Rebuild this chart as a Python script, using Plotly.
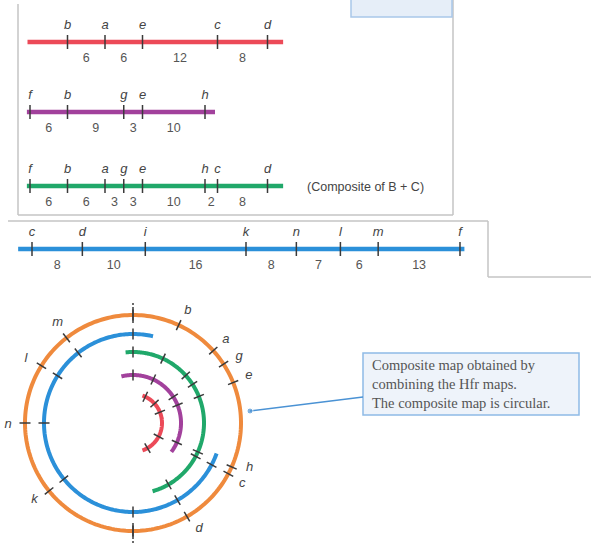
import numpy as np
import plotly.graph_objects as go

# Hfr linear maps: gene order and distances (minutes) between neighbours
red_genes = ["b", "a", "e", "c", "d"]
red_dist = [6, 6, 12, 8]
purple_genes = ["f", "b", "g", "e", "h"]
purple_dist = [6, 9, 3, 10]
green_genes = ["f", "b", "a", "g", "e", "h", "c", "d"]
green_dist = [6, 6, 3, 3, 10, 2, 8]
blue_genes = ["c", "d", "i", "k", "n", "l", "m", "f"]
blue_dist = [8, 10, 16, 8, 7, 6, 13]

# circular composite map: gene angles (deg, 0 = east, counterclockwise)
circ_genes = ["f", "b", "a", "g", "e", "h", "c", "d", "i", "k", "n", "l", "m"]
circ_angle = [90, 65, 42, 33, 22, -24, -28, -60, -90, -141, 180, 148, 128]
# outer labels and the angle they sit at
label_genes = ["b", "a", "g", "e", "h", "c", "d", "k", "n", "l", "m"]
label_angle = [64, 42, 32, 22, -21, -29, -58, -142, 181, 149, 127]

RED, PURPLE, GREEN, BLUE, ORANGE = "#ec4a58", "#a2419c", "#20a86a", "#2b90d9", "#ef8a3d"
TICK = "#3a3a3a"
W, H = 591, 546
CX, CY = 133, 423

fig = go.Figure()


def linear_row(genes, dist, start, ext, y, color, xa):
    pos = start + np.concatenate([[0], np.cumsum(dist)])
    fig.add_trace(go.Scatter(x=[pos[0] - ext[0], pos[-1] + ext[1]], y=[y, y], mode="lines",
                             line=dict(color=color, width=4.5), xaxis=xa, yaxis="y"))
    tx, ty = [], []
    for p in pos:
        tx += [p, p, None]
        ty += [y - 7, y + 7, None]
    fig.add_trace(go.Scatter(x=tx, y=ty, mode="lines", line=dict(color=TICK, width=1.5),
                             xaxis=xa, yaxis="y"))
    fig.add_trace(go.Scatter(x=pos, y=[y - 16] * len(pos), mode="text",
                             text=["<i>%s</i>" % g for g in genes],
                             textfont=dict(family="Liberation Sans", size=13, color="#444"),
                             xaxis=xa, yaxis="y"))
    mids = (pos[:-1] + pos[1:]) / 2
    fig.add_trace(go.Scatter(x=mids, y=[y + 17] * len(mids), mode="text",
                             text=[str(d) for d in dist],
                             textfont=dict(family="Liberation Sans", size=12.5, color="#555"),
                             xaxis=xa, yaxis="y"))


linear_row(red_genes, red_dist, 6, (6.4, 2.5), 42, RED, "x2")
linear_row(purple_genes, purple_dist, 0, (0.5, 1.6), 112, PURPLE, "x2")
linear_row(green_genes, green_dist, 0, (0.5, 2.5), 186, GREEN, "x2")
linear_row(blue_genes, blue_dist, 0, (2.2, 0.7), 249, BLUE, "x3")

# circular map in a polar subplot (1 radial unit = 1 px)
angle_of = dict(zip(circ_genes, circ_angle))
arcs = [
    (108, 90, 450, ORANGE, circ_genes),
    (89, 77, 340, BLUE, blue_genes),
    (71, 96, -74, GREEN, green_genes),
    (48, 104, -37, PURPLE, purple_genes),
    (29, 71, -71, RED, red_genes),
]
for r, a0, a1, color, genes in arcs:
    th = np.linspace(a0, a1, 240)
    fig.add_trace(go.Scatterpolar(r=[r] * len(th), theta=th, mode="lines",
                                  line=dict(color=color, width=4)))
    rr, tt = [], []
    for g in genes:
        rr += [r - 5.5, r + 5.5, None]
        tt += [angle_of[g], angle_of[g], None]
    fig.add_trace(go.Scatterpolar(r=rr, theta=tt, mode="lines",
                                  line=dict(color=TICK, width=1.5)))

# longer marks at top and bottom of the circle
fig.add_trace(go.Scatterpolar(r=[100, 116, None, 118, 120, None, 100, 116, None, 118, 120],
                              theta=[90, 90, None, 90, 90, None, -90, -90, None, -90, -90],
                              mode="lines", line=dict(color=TICK, width=1.5)))

# gene labels round the outer circle
la = np.radians(label_angle)
fig.add_trace(go.Scatter(x=CX + 125 * np.cos(la), y=CY - 125 * np.sin(la), mode="text",
                         text=["<i>%s</i>" % g for g in label_genes],
                         textfont=dict(family="Liberation Sans", size=13, color="#444"),
                         xaxis="x", yaxis="y"))

# callout line from circle to the note
fig.add_trace(go.Scatter(x=[250, 363], y=[411, 397], mode="lines+markers",
                         line=dict(color="#4a92d4", width=1.5),
                         marker=dict(size=[6, 0], color="#4a92d4"), xaxis="x", yaxis="y"))

gray = dict(color="#c4c4c4", width=1.5)
shapes = [
    dict(type="line", x0=18, y0=4, x1=18, y1=215, line=gray),
    dict(type="line", x0=18, y0=215, x1=453, y1=215, line=gray),
    dict(type="line", x0=453, y0=0, x1=453, y1=215, line=gray),
    dict(type="rect", x0=351, y0=-3, x1=452, y1=17, fillcolor="#e6eef8",
         line=dict(color="#a9c7e9", width=1.5)),
    dict(type="line", x0=8, y0=221, x1=488, y1=221, line=gray),
    dict(type="line", x0=488, y0=221, x1=488, y1=277, line=gray),
    dict(type="line", x0=488, y0=277, x1=591, y1=277, line=gray),
    dict(type="rect", x0=363, y0=353, x1=579, y1=415, fillcolor="#eef3fa",
         line=dict(color="#8fbbe6", width=1.5)),
]
for s in shapes:
    s.update(xref="x", yref="y", layer="below")

annotations = [
    dict(x=305, y=187, text="(Composite of B + C)", showarrow=False, xanchor="left",
         font=dict(family="Liberation Sans", size=12.5, color="#444")),
    dict(x=370, y=384, text="Composite map obtained by<br>combining the Hfr maps.<br>The composite map is circular.",
         showarrow=False, xanchor="left", align="left",
         font=dict(family="Liberation Serif", size=14.5, color="#555")),
]
for a in annotations:
    a.update(xref="x", yref="y")

ax_off = dict(visible=False, fixedrange=True)
fig.update_layout(
    width=W, height=H, margin=dict(l=0, r=0, t=0, b=0),
    paper_bgcolor="white", plot_bgcolor="white", showlegend=False,
    xaxis=dict(range=[0, W], domain=[0, 1], **ax_off),
    xaxis2=dict(range=[-30 / 6.25, (W - 30) / 6.25], overlaying="x", anchor="y", **ax_off),
    xaxis3=dict(range=[-32 / 6.294, (W - 32) / 6.294], overlaying="x", anchor="y", **ax_off),
    yaxis=dict(range=[H, 0], domain=[0, 1], **ax_off),
    polar=dict(domain=dict(x=[(CX - 120) / W, (CX + 120) / W], y=[1 - (CY + 120) / H, 1 - (CY - 120) / H]),
               bgcolor="rgba(0,0,0,0)",
               radialaxis=dict(range=[0, 120], visible=False),
               angularaxis=dict(visible=False, rotation=0, direction="counterclockwise")),
    shapes=shapes, annotations=annotations,
)

fig.write_html("out.html", config={"displayModeBar": False},
               post_script="document.body.style.margin='0';")
